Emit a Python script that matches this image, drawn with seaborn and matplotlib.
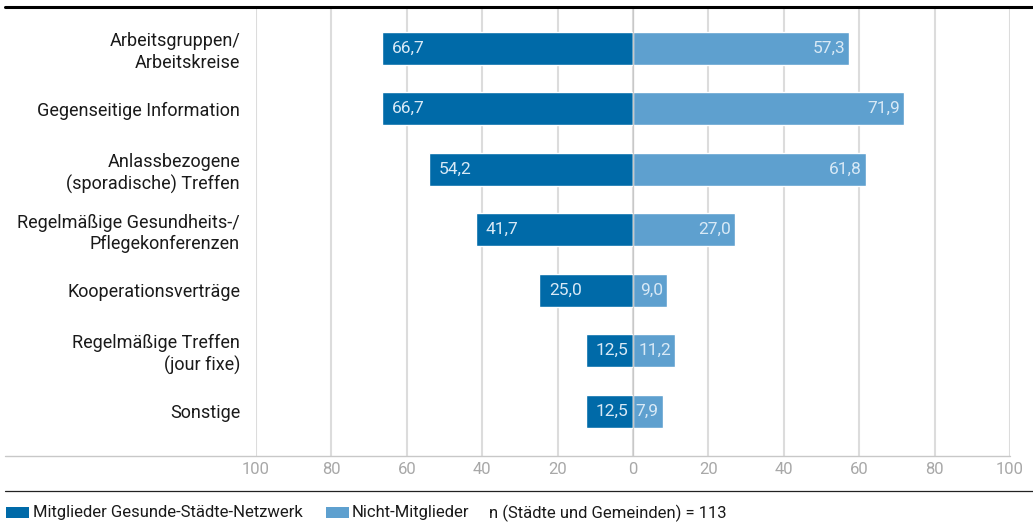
import matplotlib
matplotlib.use("Agg")
import matplotlib.pyplot as plt
from matplotlib.lines import Line2D
from matplotlib.patches import Rectangle
import seaborn as sns

# --- data -------------------------------------------------------------
kategorien = [
    "Arbeitsgruppen/\nArbeitskreise",
    "Gegenseitige Information",
    "Anlassbezogene\n(sporadische) Treffen",
    "Regelmäßige Gesundheits-/\nPflegekonferenzen",
    "Kooperationsverträge",
    "Regelmäßige Treffen\n(jour fixe)",
    "Sonstige",
]
mitglieder = [66.7, 66.7, 54.2, 41.7, 25.0, 12.5, 12.5]
nicht_mitglieder = [57.3, 71.9, 61.8, 27.0, 9.0, 11.2, 7.9]
ticks = [-100, -80, -60, -40, -20, 0, 20, 40, 60, 80, 100]
serien = ["Mitglieder Gesunde-Städte-Netzwerk", "Nicht-Mitglieder"]
fussnote = "n (Städte und Gemeinden) = 113"

# --- style ------------------------------------------------------------
sns.set_theme(style="white")
plt.rcParams["font.family"] = ["Roboto", "DejaVu Sans"]

DUNKEL = "#006aa8"
HELL = "#5ea0cf"
LABEL_FARBE = "#d8e9f6"
W, H = 1033, 526

fig = plt.figure(figsize=(W / 100, H / 100), dpi=100)
ax = fig.add_axes([256 / W, (H - 456) / H, 754 / W, 449 / H])

links = [-v for v in mitglieder]
sns.barplot(x=links, y=kategorien, color=DUNKEL, width=0.545, orient="h",
            saturation=1, ax=ax, zorder=2)
sns.barplot(x=nicht_mitglieder, y=kategorien, color=HELL, width=0.545, orient="h",
            saturation=1, ax=ax, zorder=2)

ax.set_xlim(-100, 100)
ax.set_ylim(6.74, -0.68)
ax.set_xlabel("")
ax.set_ylabel("")
ax.set_xticks(ticks)
ax.set_xticklabels([str(abs(t)) for t in ticks], color="#a8a8a8", fontsize=12)
ax.tick_params(axis="x", length=0, pad=4)
ax.tick_params(axis="y", length=0, pad=11.5, labelsize=13, labelcolor="#1a1a1a")
for lab in ax.get_yticklabels():
    lab.set_linespacing(1.25)
for s in ax.spines.values():
    s.set_visible(False)
ax.set_axisbelow(True)
ax.grid(axis="x", color="#dcdcdc", lw=1.5)
ax.grid(axis="y", visible=False)
ax.axvline(0, color="#c8c8c8", lw=0.9, zorder=3)

# value labels inside the bars
px = 200 / 754  # data units per pixel
for i, (l, r) in enumerate(zip(mitglieder, nicht_mitglieder)):
    ax.text(-l + 10 * px, i, f"{l:.1f}".replace(".", ","), ha="left", va="center",
            color=LABEL_FARBE, fontsize=12.5, zorder=4)
    ax.text(r - 4 * px, i, f"{r:.1f}".replace(".", ","), ha="right", va="center",
            color=LABEL_FARBE, fontsize=12.5, zorder=4)

# frame lines spanning the figure
def fx(x):
    return x / W

def fy(y):
    return 1 - y / H

fig.add_artist(Line2D([fx(5), fx(1033)], [fy(6.5), fy(6.5)], color="black", lw=2.2))
fig.add_artist(Line2D([fx(5), fx(1010)], [fy(456), fy(456)], color="#c8c8c8", lw=1))
fig.add_artist(Line2D([fx(5), fx(1033)], [fy(490.5), fy(490.5)], color="#222222", lw=0.9))

# legend
fig.add_artist(Rectangle((fx(6), fy(518)), 23 / W, 11 / H, color=DUNKEL, lw=0))
fig.text(fx(33), fy(513), serien[0], ha="left", va="center", fontsize=12, color="#1a1a1a")
fig.add_artist(Rectangle((fx(326), fy(518)), 23 / W, 11 / H, color=HELL, lw=0))
fig.text(fx(352), fy(513), serien[1], ha="left", va="center", fontsize=12, color="#1a1a1a")
fig.text(fx(489), fy(513), fussnote, ha="left", va="center", fontsize=12, color="#1a1a1a")

fig.savefig("out.png", dpi=100)
